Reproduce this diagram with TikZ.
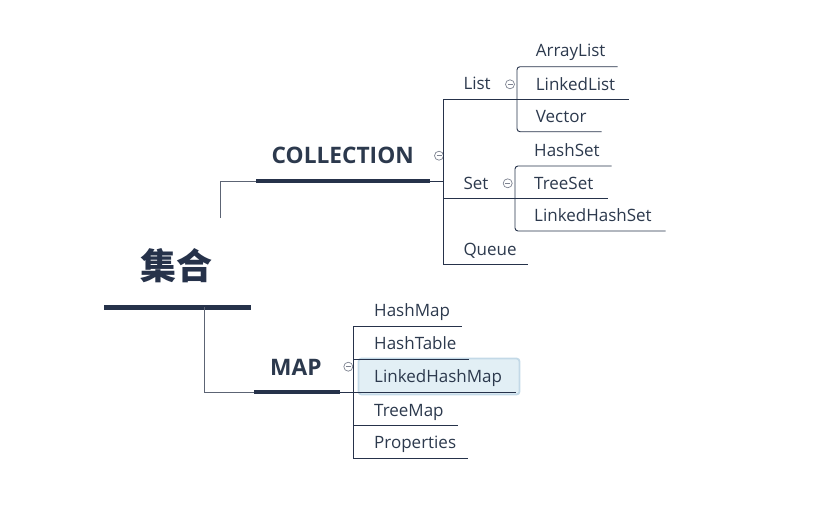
\documentclass[tikz,border=0pt]{standalone}
\usepackage{fontspec}
\setmainfont{Open Sans}
\newfontfamily\cjk{Noto Sans CJK SC}
\definecolor{linec}{HTML}{26324A}
\definecolor{textc}{HTML}{2C394D}
\definecolor{conc}{HTML}{5C6474}
\definecolor{iconc}{HTML}{7D8290}
\definecolor{hlfill}{HTML}{E2EFF5}
\definecolor{hldraw}{HTML}{C3D9E7}
\begin{document}
\begin{tikzpicture}[x=1pt,y=-1pt,
  leaf/.style={anchor=base west, inner sep=0pt, text=textc, font=\fontsize{17}{17}\selectfont},
  topic/.style={anchor=base west, inner sep=0pt, text=textc, font=\bfseries\fontsize{22.7}{22.7}\selectfont},
  thin/.style={draw=linec, line width=0.9pt},
  bar/.style={draw=linec, line width=3.5pt},
  con/.style={draw=conc, line width=1pt},
  fold/.style={circle, draw=iconc, line width=0.7pt, minimum size=9pt, inner sep=0pt,
    path picture={\draw[iconc, line width=0.7pt] ([xshift=-2.5pt]path picture bounding box.center) -- ([xshift=2.5pt]path picture bounding box.center);}}
]
\useasboundingbox (0,0) rectangle (824,528);

% root
\node[anchor=base west, inner sep=0pt, text=linec, font=\cjk\bfseries\fontsize{36}{36}\selectfont] (root) at (140,279) {集合};
\coordinate (rootL) at (104,307);
\coordinate (rootR) at (251,307);
\draw[draw=linec, line width=5pt] (rootL) -- (rootR);

% COLLECTION
\node[topic] (coll) at (271.5,163.3) {COLLECTION};
\coordinate (collL) at (256,181);
\coordinate (collR) at (430,181);
\coordinate (rootUp) at (220,218);
\draw[con] (rootUp) |- (collL);
\draw[bar] (collL) -- (collR);
\node[fold] (collfold) at (439,155.7) {};
\coordinate (cJ) at (443,181);
\coordinate (cTop) at (443,99);
\coordinate (cBot) at (443,264);
\draw[thin] (collR) -- (cJ);
\draw[thin] (cTop) -- (cBot);

% List
\node[leaf] (list) at (463.3,89.3) {List};
\node[fold] (listfold) at (510,84.3) {};
\coordinate (listEnd) at (629,99);
\draw[thin] (cTop) -- (listEnd);
\coordinate (alEnd) at (617.7,66.7);
\coordinate (vEnd) at (601.7,131.7);
\draw[thin, rounded corners=3pt] (alEnd) -- (517,66.7) -- (517,131.7) -- (vEnd);
\node[leaf] (arraylist) at (535.7,56.7) {ArrayList};
\node[leaf] (linkedlist) at (535.7,90) {LinkedList};
\node[leaf] (vector) at (535.7,122.7) {Vector};

% Set
\node[leaf] (set) at (463.3,189) {Set};
\node[fold] (setfold) at (507.7,183.3) {};
\coordinate (setStart) at (443,198);
\coordinate (setEnd) at (607.7,198);
\draw[thin] (setStart) -- (setEnd);
\coordinate (hsEnd) at (611.7,166);
\coordinate (lhsEnd) at (665.7,231);
\draw[thin, rounded corners=3pt] (hsEnd) -- (515,166) -- (515,231) -- (lhsEnd);
\node[leaf] (hashset) at (534,156) {HashSet};
\node[leaf] (treeset) at (534,189) {TreeSet};
\node[leaf] (linkedhashset) at (534,221.7) {LinkedHashSet};

% Queue
\node[leaf] (queue) at (463.3,255.7) {Queue};
\coordinate (qEnd) at (528,264);
\draw[thin] (cBot) -- (qEnd);

% MAP
\node[topic] (map) at (270,375) {MAP};
\coordinate (rootDown) at (204,307);
\coordinate (mapL) at (254,392);
\coordinate (mapR) at (340,392);
\draw[con] (rootDown) |- (mapL);
\draw[bar] (mapL) -- (mapR);
\node[fold] (mapfold) at (348.3,366.7) {};
\coordinate (mJ) at (353,392);
\coordinate (mTop) at (353,326);
\coordinate (mBot) at (353,458);
\draw[thin] (mapR) -- (mJ);
\draw[thin] (mTop) -- (mBot);

% highlight
\node[draw=hldraw, fill=hlfill, line width=1.8pt, rounded corners=3pt, minimum width=161pt, minimum height=36pt, inner sep=0pt] (hl) at (439,376.5) {};

\coordinate (hmEnd) at (461.7,326);
\coordinate (htStart) at (353,359.3);
\coordinate (htEnd) at (469,359.3);
\coordinate (lhmEnd) at (516,392);
\coordinate (tmStart) at (353,425.3);
\coordinate (tmEnd) at (457.7,425.3);
\coordinate (prEnd) at (467.7,458);
\draw[thin] (mTop) -- (hmEnd);
\draw[thin] (htStart) -- (htEnd);
\draw[thin] (mJ) -- (lhmEnd);
\draw[thin] (tmStart) -- (tmEnd);
\draw[thin] (mBot) -- (prEnd);

\node[leaf] (hashmap) at (374,316.7) {HashMap};
\node[leaf] (hashtable) at (374,349.3) {HashTable};
\node[leaf] (linkedhashmap) at (374,382.7) {LinkedHashMap};
\node[leaf] (treemap) at (374,416) {TreeMap};
\node[leaf] (properties) at (374,448.3) {Properties};
\end{tikzpicture}
\end{document}
